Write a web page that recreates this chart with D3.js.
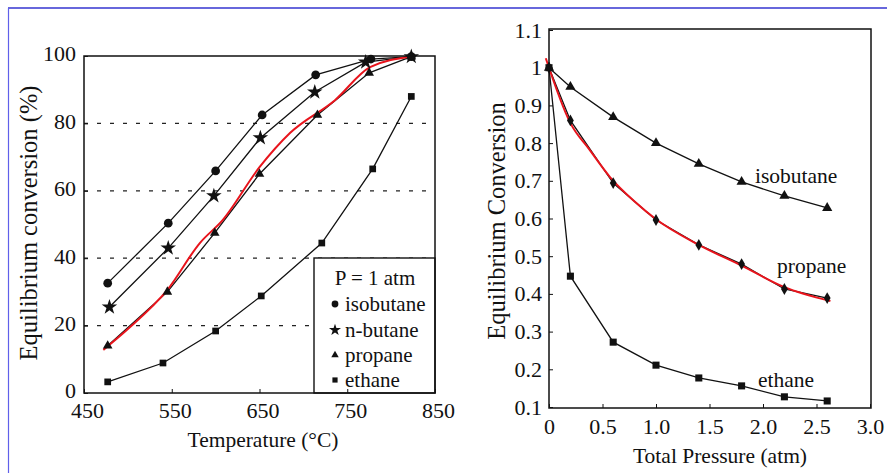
<!DOCTYPE html>
<html>
<head>
<meta charset="utf-8">
<script src="https://cdn.jsdelivr.net/npm/d3@7"></script>
<style>
  body { margin: 0; background: #fff; }
</style>
</head>
<body>
<div id="chart"></div>
<script>
// left panel: conversion vs temperature (P = 1 atm)
const tempTicks = [450, 550, 650, 750, 850];
const convTicks = [0, 20, 40, 60, 80, 100];
const gridLevels = [20, 40, 60, 80];

const isoT = [477, 546, 600, 653, 714, 777, 823];
const isoConv = [32.6, 50.4, 65.9, 82.5, 94.4, 99.1, 99.8];
const nbuT = [479, 546, 598, 651, 713, 771, 823];
const nbuConv = [25.5, 43, 58.5, 75.7, 89.3, 98.2, 99.8];
const proT = [477, 545, 599, 650, 716, 775, 823];
const proConv = [14, 30, 47.5, 65, 82.5, 95, 99.8];
const ethT = [477, 540, 600, 652, 721, 779, 823];
const ethConv = [3.3, 8.9, 18.4, 28.8, 44.5, 66.5, 88];
// red fitted curve (left)
const fitT = [472, 500, 545, 582, 608, 650, 685, 736, 776, 823];
const fitConv = [12.8, 19, 30.6, 44.5, 51.3, 67, 77.2, 86.9, 96.7, 99.8];

// right panel: conversion vs total pressure
const presTicks = [0, 0.5, 1.0, 1.5, 2.0, 2.5, 3.0];
const presTickLabels = ["0", "0.5", "1.0", "1.5", "2.0", "2.5", "3.0"];
const eqTicks = [0.1, 0.2, 0.3, 0.4, 0.5, 0.6, 0.7, 0.8, 0.9, 1.0, 1.1];
const eqTickLabels = ["0.1", "0.2", "0.3", "0.4", "0.5", "0.6", "0.7", "0.8", "0.9", "1", "1.1"];
const pressures = [0, 0.2, 0.6, 1.0, 1.4, 1.8, 2.2, 2.6];
const isoEq = [1.0, 0.949, 0.869, 0.80, 0.745, 0.697, 0.66, 0.628];
const proEq = [1.0, 0.86, 0.694, 0.596, 0.53, 0.479, 0.413, 0.389];
const ethEq = [1.0, 0.447, 0.272, 0.211, 0.177, 0.156, 0.127, 0.116];
// red fitted curve (right)
const fitP = [-0.03, 0.2, 0.38, 0.57, 0.8, 1.0, 1.4, 1.8, 2.2, 2.63];
const fitEq = [1.025, 0.853, 0.782, 0.71, 0.645, 0.598, 0.53, 0.475, 0.418, 0.381];

const FONT = "'Liberation Serif', 'Times New Roman', Times, 'DejaVu Serif', serif";

const svgWidth = 887, svgHeight = 473;
const svg = d3.select("#chart").append("svg")
  .attr("width", svgWidth)
  .attr("height", svgHeight)
  .attr("font-family", FONT);

// helper for plain text labels
function label(g, x, y, txt, size, anchor) {
  return g.append("text").attr("x", x).attr("y", y)
    .attr("text-anchor", anchor || "start")
    .attr("font-family", FONT).attr("font-size", size)
    .attr("fill", "#111").text(txt);
}

// blue page border
svg.append("line").attr("x1", 8).attr("x2", 887).attr("y1", 8).attr("y2", 8)
  .attr("stroke", "#3535d0").attr("stroke-width", 1.5);
svg.append("line").attr("x1", 8.5).attr("x2", 8.5).attr("y1", 8).attr("y2", 473)
  .attr("stroke", "#6060ea").attr("stroke-width", 1.2);

const zip = (xs, ys) => xs.map((x, i) => [x, ys[i]]);

// ---------------- left chart ----------------
const xL = d3.scaleLinear().domain([450, 850]).range([84, 435]);
const yL = d3.scaleLinear().domain([0, 100]).range([393, 56]);
const left = svg.append("g");

// dashed gridlines
left.selectAll(".grid").data(gridLevels).enter().append("line")
  .attr("x1", xL(450)).attr("x2", xL(850))
  .attr("y1", d => yL(d)).attr("y2", d => yL(d))
  .attr("stroke", "#222").attr("stroke-width", 1.2)
  .attr("stroke-dasharray", "4,9");

const lineL = d3.line().x(d => xL(d[0])).y(d => yL(d[1]));
const seriesL = [
  { t: isoT, v: isoConv, sym: d3.symbolCircle, size: 60 },
  { t: nbuT, v: nbuConv, sym: d3.symbolStar, size: 75 },
  { t: proT, v: proConv, sym: d3.symbolTriangle, size: 40 },
  { t: ethT, v: ethConv, sym: d3.symbolSquare, size: 45 }
];
seriesL.forEach(s => {
  left.append("path").datum(zip(s.t, s.v))
    .attr("d", lineL).attr("fill", "none")
    .attr("stroke", "#111").attr("stroke-width", 1.3);
});

// red fit
left.append("path").datum(zip(fitT, fitConv))
  .attr("d", lineL.curve(d3.curveMonotoneX))
  .attr("fill", "none").attr("stroke", "#e8141c").attr("stroke-width", 2);

seriesL.forEach(s => {
  left.selectAll(null).data(zip(s.t, s.v)).enter().append("path")
    .attr("transform", d => `translate(${xL(d[0])},${yL(d[1])})`)
    .attr("d", d3.symbol().type(s.sym).size(s.size))
    .attr("fill", "#111");
});

// legend box
const lg = left.append("g");
lg.append("rect").attr("x", 314).attr("y", 258).attr("width", 121).attr("height", 135)
  .attr("fill", "#fff").attr("stroke", "#111").attr("stroke-width", 1.4);
label(lg, 375, 285, "P = 1 atm", 21, "middle");
const legNames = ["isobutane", "n-butane", "propane", "ethane"];
const legY = [311, 337, 362, 387];
legNames.forEach((n, i) => {
  lg.append("path")
    .attr("transform", `translate(335,${legY[i] - 7})`)
    .attr("d", d3.symbol().type(seriesL[i].sym).size(seriesL[i].size * 0.6))
    .attr("fill", "#111");
  label(lg, 345, legY[i], n, 21);
});

// frame
left.append("rect").attr("x", xL(450)).attr("y", yL(100))
  .attr("width", xL(850) - xL(450)).attr("height", yL(0) - yL(100))
  .attr("fill", "none").attr("stroke", "#111").attr("stroke-width", 1.5);

// axes
const axL = left.append("g").attr("transform", `translate(${xL(450)},0)`)
  .call(d3.axisLeft(yL).tickValues(convTicks).tickSize(-4).tickPadding(8));
const axB = left.append("g").attr("transform", `translate(0,${yL(0)})`)
  .call(d3.axisBottom(xL).tickValues(tempTicks).tickSize(-4).tickPadding(9));
[axL, axB].forEach(a => {
  a.attr("font-family", FONT).attr("font-size", 22);
  a.select(".domain").remove();
  a.selectAll("text").attr("fill", "#111");
  a.selectAll("line").attr("stroke", "#111");
});
// labels in the reference sit a little right of their ticks
axB.selectAll("text").attr("dx", 3);
axL.selectAll("text").attr("dy", "0.22em");

label(left, 263, 447, "Temperature (°C)", 21.5, "middle");
label(left, 0, 0, "Equilibrium conversion (%)", 24.5, "middle")
  .attr("transform", "translate(37,223) rotate(-90)");

// ---------------- right chart ----------------
const xR = d3.scaleLinear().domain([0, 3]).range([549, 870]);
const yR = d3.scaleLinear().domain([0.1, 1.1]).range([407, 30]);
const right = svg.append("g");
const lineR = d3.line().x(d => xR(d[0])).y(d => yR(d[1]));

const seriesR = [
  { v: isoEq, sym: d3.symbolTriangle, size: 45 },
  { v: proEq, sym: d3.symbolDiamond, size: 40 },
  { v: ethEq, sym: d3.symbolSquare, size: 50 }
];
seriesR.forEach(s => {
  right.append("path").datum(zip(pressures, s.v))
    .attr("d", lineR).attr("fill", "none")
    .attr("stroke", "#111").attr("stroke-width", 1.3);
});
right.append("path").datum(zip(fitP, fitEq))
  .attr("d", lineR.curve(d3.curveMonotoneX))
  .attr("fill", "none").attr("stroke", "#e8141c").attr("stroke-width", 2);
seriesR.forEach(s => {
  right.selectAll(null).data(zip(pressures, s.v)).enter().append("path")
    .attr("transform", d => `translate(${xR(d[0])},${yR(d[1])})`)
    .attr("d", d3.symbol().type(s.sym).size(s.size))
    .attr("fill", "#111");
});

right.append("rect").attr("x", xR(0)).attr("y", yR(1.1) - 1)
  .attr("width", xR(3) - xR(0) + 1).attr("height", yR(0.1) - yR(1.1) + 2)
  .attr("fill", "none").attr("stroke", "#111").attr("stroke-width", 1.5);

const axRL = right.append("g").attr("transform", `translate(${xR(0)},0)`)
  .call(d3.axisLeft(yR).tickValues(eqTicks).tickFormat((d, i) => eqTickLabels[i])
    .tickSize(-4).tickPadding(7));
const axRB = right.append("g").attr("transform", `translate(0,${yR(0.1) + 1})`)
  .call(d3.axisBottom(xR).tickValues(presTicks).tickFormat((d, i) => presTickLabels[i])
    .tickSize(-4).tickPadding(10));
[axRL, axRB].forEach(a => {
  a.attr("font-family", FONT).attr("font-size", 22);
  a.select(".domain").remove();
  a.selectAll("text").attr("fill", "#111");
  a.selectAll("line").attr("stroke", "#111");
});

label(right, 755, 183, "isobutane", 21.5);
label(right, 777, 273, "propane", 21.5);
label(right, 758, 387, "ethane", 21.5);

label(right, 720, 463, "Total Pressure (atm)", 21.5, "middle");
label(right, 0, 0, "Equilibrium Conversion", 24.5, "middle")
  .attr("transform", "translate(505,221) rotate(-90)");
</script>
</body>
</html>
